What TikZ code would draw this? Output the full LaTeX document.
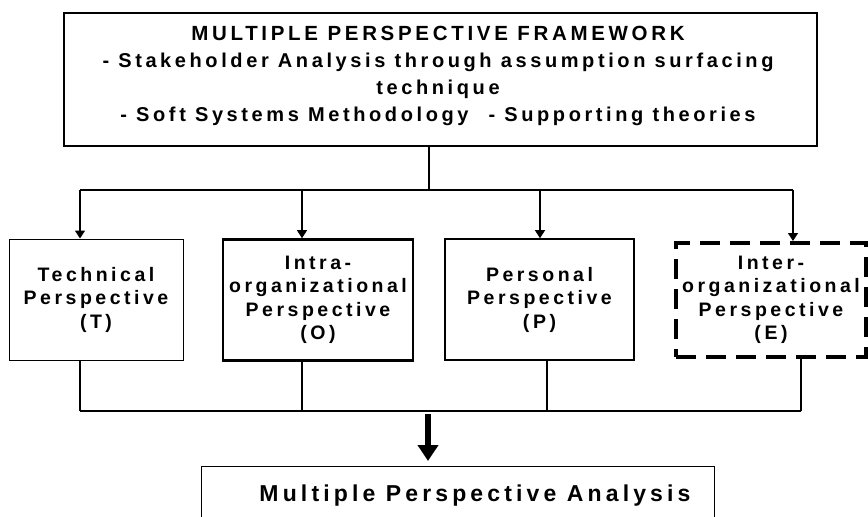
\documentclass[tikz,border=0pt]{standalone}
\usepackage{fontspec}
\setmainfont{Liberation Sans}[LetterSpace=18]
\usetikzlibrary{arrows.meta}

\tikzset{
  persp/.style={draw, rectangle, align=center, inner sep=0pt,
    minimum height=121pt, font=\bfseries\fontsize{19.5}{23.5}\selectfont},
  arr/.style={-{Triangle[width=10pt,length=8pt]}},
}

\begin{document}
\begin{tikzpicture}[x=1pt, y=-1pt, line width=1.2pt]

  \clip (0,0) rectangle (868,517);

  % framework box
  \node[draw, minimum width=753pt, minimum height=133pt] (fw) at (440.5,79.5) {};
  \node[align=center, font=\bfseries\fontsize{20}{27}\selectfont] (fwtext) at (438,75.5)
    {{\fontsize{20.5}{27}\selectfont MULTIPLE PERSPECTIVE FRAMEWORK}\\
     - Stakeholder Analysis through assumption surfacing\\
     technique\\
     - Soft Systems Methodology\quad - Supporting theories};

  % the four perspectives
  \node[persp, line width=1pt, minimum width=174pt] (T) at (96,299.5)
    {Technical\\Perspective\\(T)};
  \node[persp, line width=2.6pt, minimum width=190pt] (O) at (318,300)
    {Intra-\\organizational\\Perspective\\(O)};
  \node[persp, line width=1.6pt, minimum width=189pt] (P) at (539.5,299.5)
    {Personal\\Perspective\\(P)};
  \node[persp, line width=4pt, dash pattern=on 20pt off 10pt,
        minimum width=190pt, minimum height=114pt] (E) at (771,300)
    {Inter-\\organizational\\Perspective\\(E)};

  % analysis box
  \node[draw, minimum width=513pt, minimum height=80pt, anchor=north west] (mpa) at (201,466) {};
  \node[font=\bfseries\fontsize{23}{27}\selectfont] (mpatext) at (475,496)
    {Multiple Perspective Analysis};

  % top bus
  \draw (fw.south -| 429,0) -- (429,190);
  \draw (80,190) -- (793,190);
  \foreach \n/\x in {T/80, O/302, P/540, E/793}
    \draw[arr] (\x,190) -- (\n.north -| \x,0);

  % bottom bus
  \foreach \n/\x in {T/80, O/302, P/547, E/801}
    \draw (\n.south -| \x,0) -- (\x,411);
  \draw (80,411) -- (801,411);

  \draw[line width=6pt, -{Triangle[width=20pt,length=16pt]}, shorten >=5pt]
    (428,414) -- (mpa.north -| 428,0);

\end{tikzpicture}
\end{document}
